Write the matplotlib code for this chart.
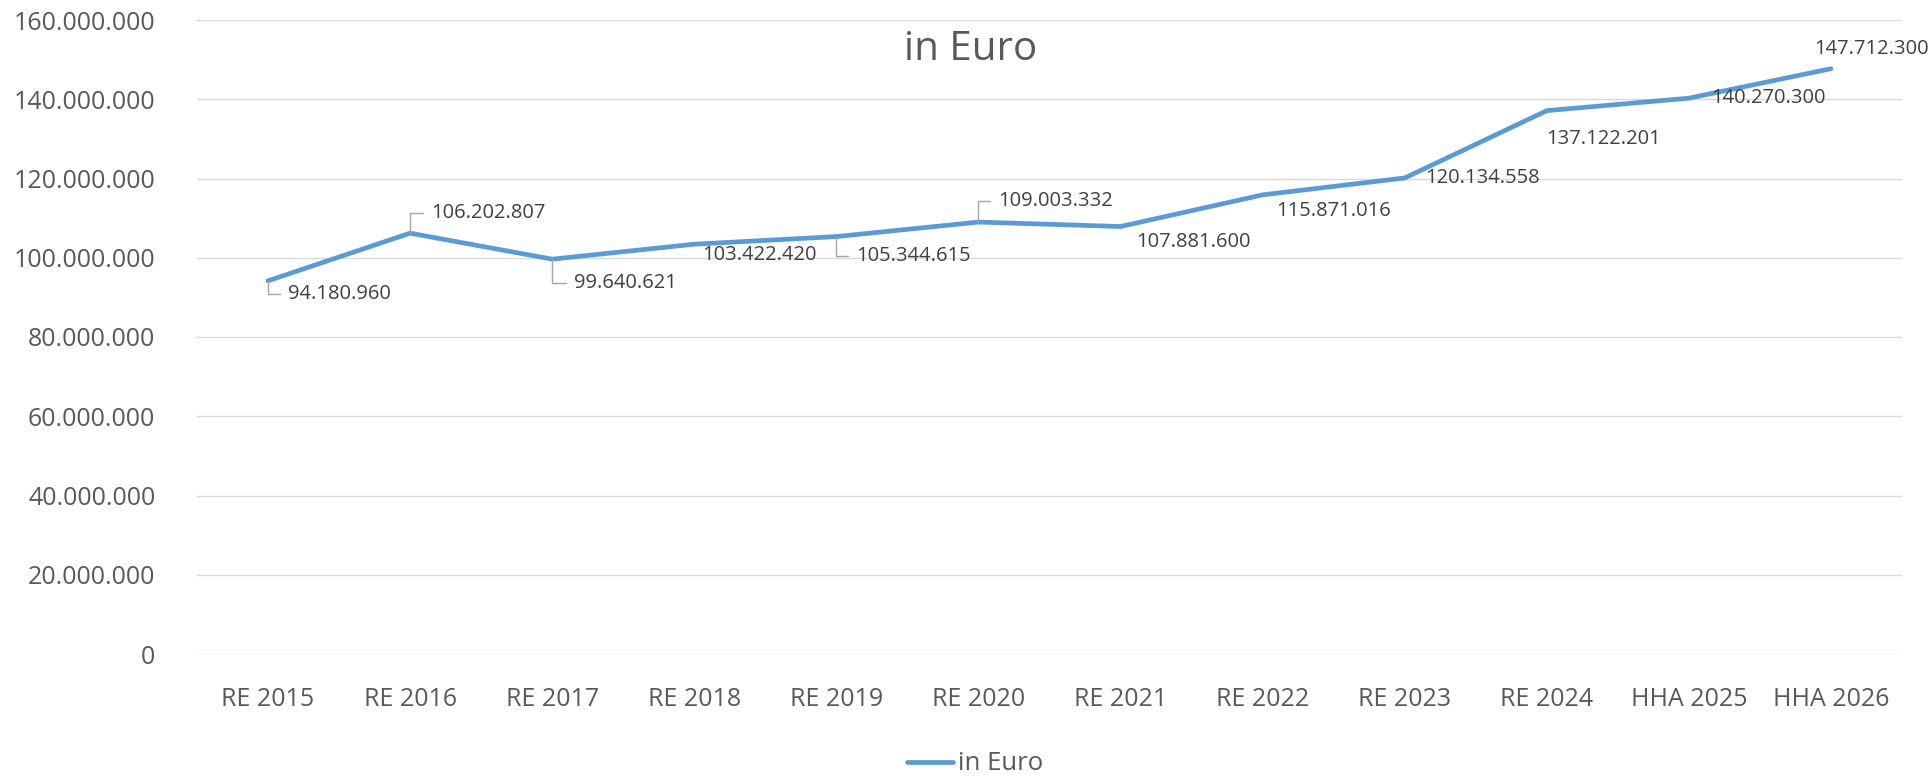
import matplotlib
matplotlib.use("Agg")
import matplotlib.pyplot as plt
from matplotlib.ticker import FuncFormatter, MultipleLocator

plt.rcParams.update({
    "font.family": ["Open Sans", "DejaVu Sans"],
    "axes.unicode_minus": False,
})

# Daten
years = ["RE 2015", "RE 2016", "RE 2017", "RE 2018", "RE 2019", "RE 2020",
         "RE 2021", "RE 2022", "RE 2023", "RE 2024", "HHA 2025", "HHA 2026"]
values = [94180960, 106202807, 99640621, 103422420, 105344615, 109003332,
          107881600, 115871016, 120134558, 137122201, 140270300, 147712300]
series_name = "in Euro"

# Lage der Datenbeschriftungen (Pixel rechts / oben) und Führungslinien
label_dx = [20, 21, 22, 8, 20, 20, 16, 14, 20, -1, 22, -17]
label_dy = [-13, 20, -24, -11, -19, 21, -15, -16, 0, -28, 0, 20]
leader = [True, True, True, False, True, True, False, False, False, False, False, False]

blue = "#5B9BD5"
grey_txt = "#595959"
dark_txt = "#404040"


def de_fmt(v, pos=None):
    return f"{int(round(v)):,}".replace(",", ".")


DPI = 100
fig = plt.figure(figsize=(19.28, 7.79), dpi=DPI)
ax = fig.add_axes([197 / 1928, 125 / 779, (1902 - 197) / 1928, (654 - 20) / 779])

x = list(range(len(years)))
line, = ax.plot(x, values, color=blue, linewidth=3.4, solid_capstyle="round",
                solid_joinstyle="round", label=series_name, zorder=3)

ax.set_xlim(-0.5, len(years) - 0.5)
ax.set_ylim(0, 160000000)
ax.yaxis.set_major_locator(MultipleLocator(20000000))
ax.yaxis.set_major_formatter(FuncFormatter(de_fmt))
ax.set_xticks(x)
ax.set_xticklabels(years)

ax.grid(axis="y", color="#D9D9D9", linewidth=1.0)
ax.set_axisbelow(True)
for s in ax.spines.values():
    s.set_visible(False)
ax.tick_params(axis="both", length=0, colors=grey_txt, labelsize=18)
ax.tick_params(axis="y", pad=30)
ax.tick_params(axis="x", pad=24)

px2pt = 72 / DPI
for i, v in enumerate(values):
    props = None
    if leader[i]:
        props = dict(arrowstyle="-", color="#A6A6A6", lw=1.0,
                     connectionstyle="angle,angleA=0,angleB=90,rad=0",
                     relpos=(0, 0.5), shrinkA=4, shrinkB=0)
    ax.annotate(de_fmt(v), xy=(i, v),
                xytext=(label_dx[i] * px2pt, label_dy[i] * px2pt),
                textcoords="offset points", ha="left", va="center",
                fontsize=14.5, color=dark_txt, arrowprops=props, zorder=4,
                annotation_clip=False)

fig.text(971 / 1928, 1 - 50 / 779, series_name, ha="center", va="center",
         fontsize=29, color=grey_txt)

leg = fig.legend(handles=[line], loc="center", bbox_to_anchor=(975 / 1928, 1 - 764 / 779),
                 frameon=False, fontsize=18.5, handlelength=1.8, handletextpad=0.2)
for t in leg.get_texts():
    t.set_color(grey_txt)

fig.savefig("out.png", dpi=DPI)
